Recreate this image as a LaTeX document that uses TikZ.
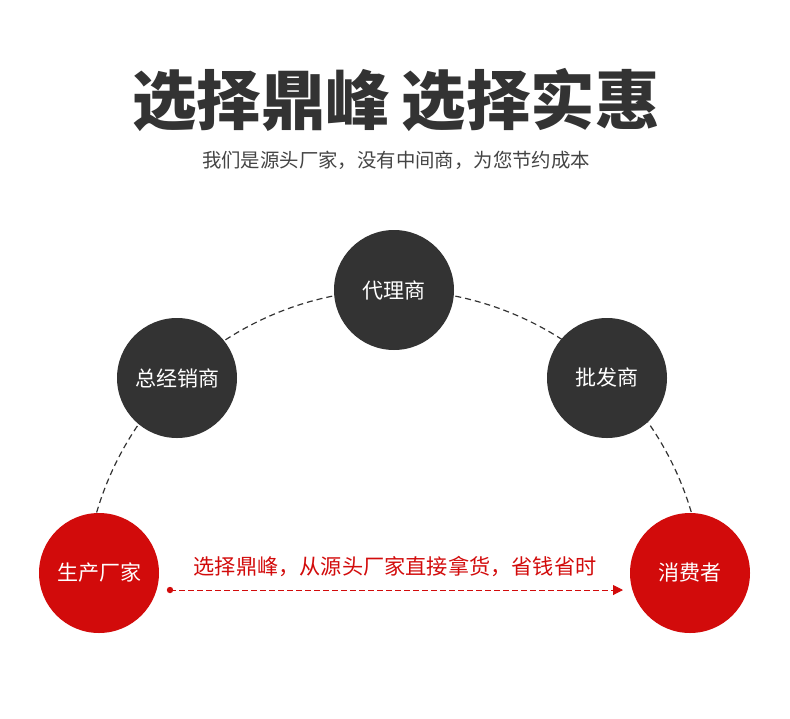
\documentclass[tikz,border=0pt]{standalone}
\usepackage{fontspec}
\newfontfamily\cjk{Noto Sans CJK SC}
\newfontfamily\cjkbold{Noto Sans CJK SC Black}
\usetikzlibrary{arrows.meta}
\definecolor{darkc}{HTML}{333333}
\definecolor{redc}{HTML}{D20B0B}
\definecolor{subc}{HTML}{444444}
\tikzset{
  darkball/.style={circle, fill=darkc, minimum size=120pt, inner sep=0pt, text=white, font=\cjk\fontsize{21}{24}\selectfont},
  redball/.style={circle, fill=redc, minimum size=120pt, inner sep=0pt, text=white, font=\cjk\fontsize{21}{24}\selectfont},
  arcline/.style={draw=darkc, line width=1.2pt, dash pattern=on 6pt off 4pt},
  redline/.style={draw=redc, line width=1pt, dash pattern=on 6pt off 3pt}
}
\begin{document}
\begin{tikzpicture}[x=1pt,y=-1pt]
\useasboundingbox (0,0) rectangle (790,718);
% arc behind the circles
\coordinate (arcstart) at ({394+310*cos(163.6)},{600-310*sin(163.6)});
\draw[arcline] (arcstart) arc[start angle=163.6, end angle=16.4, radius=310pt];
% title
\node[font=\cjkbold\fontsize{64.5}{72}\selectfont, text=darkc, inner sep=0pt] (title) at (396,100) {选择鼎峰\hspace{12pt}选择实惠};
\node[font=\cjk\fontsize{19.4}{24}\selectfont, text=subc, inner sep=0pt] (sub) at (396,160) {我们是源头厂家，没有中间商，为您节约成本};
% circles
\node[darkball] (agent) at (394,290) {代理商};
\node[darkball] (dist) at (177,378) {总经销商};
\node[darkball] (whole) at (607,378) {批发商};
\node[redball] (maker) at (99,573) {生产厂家};
\node[redball] (buyer) at (690,573) {消费者};
% red arrow
\coordinate (rs) at (170,590);
\coordinate (re) at (623,590);
\fill[redc] (rs) circle (3.2pt);
\draw[redline, -{Triangle[length=10pt,width=10pt]}] (rs) -- (re);
\node[font=\cjk\fontsize{21.2}{24}\selectfont, text=redc, inner sep=0pt] (slogan) at (395,567) {选择鼎峰，从源头厂家直接拿货，省钱省时};
\end{tikzpicture}
\end{document}
